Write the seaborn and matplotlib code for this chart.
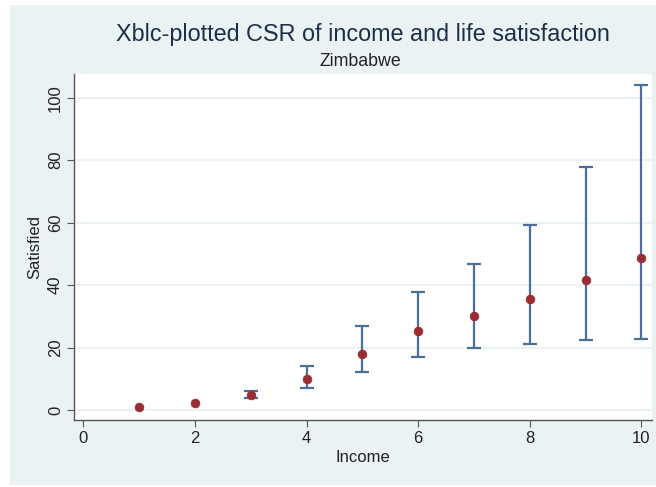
import matplotlib
matplotlib.use("Agg")
import matplotlib.pyplot as plt
import seaborn as sns
import pandas as pd
from matplotlib.patches import Rectangle

# Income category and estimated satisfaction with confidence bounds
income = [1, 2, 3, 4, 5, 6, 7, 8, 9, 10]
satisfied = [1.1, 2.3, 4.9, 10.0, 18.0, 25.3, 30.1, 35.5, 41.6, 48.7]
ci_lower = [1.1, 2.3, 3.7, 7.2, 12.1, 16.9, 19.9, 21.2, 22.3, 22.8]
ci_upper = [1.1, 2.3, 6.1, 14.1, 26.8, 37.8, 46.7, 59.1, 77.7, 104.1]

x_ticks = [0, 2, 4, 6, 8, 10]
y_ticks = [0, 20, 40, 60, 80, 100]

df = pd.DataFrame({"Income": income, "Satisfied": satisfied,
                   "lo": ci_lower, "hi": ci_upper})

sns.set_theme(style="white")
plt.rcParams["font.family"] = ["Liberation Sans", "DejaVu Sans"]

BG = "#EAF2F3"
NAVY = "#4A6F96"
CRAN = "#9A2C33"
TITLE = "#1C2D48"
TXT = "#222222"

fig = plt.figure(figsize=(6.56, 4.87), dpi=100, facecolor="white")
# light graph region behind the plot
fig.add_artist(Rectangle((10 / 656, 2 / 487), 646 / 656, 480 / 487,
                         transform=fig.transFigure, facecolor=BG,
                         edgecolor="none", zorder=-5))

ax = fig.add_axes([74 / 656, 67 / 487, 578 / 656, 346 / 487])
ax.set_facecolor("white")
ax.set_zorder(1)

for v in y_ticks:
    ax.axhline(v, color=BG, lw=1.5, zorder=0)

# intervals only where they have width
ci = df[df["hi"] > df["lo"]]
yerr = [ci["Satisfied"] - ci["lo"], ci["hi"] - ci["Satisfied"]]
ax.errorbar(ci["Income"], ci["Satisfied"], yerr=yerr, fmt="none",
            ecolor=NAVY, elinewidth=1.6, capsize=5, capthick=1.6, zorder=2)
sns.scatterplot(data=df, x="Income", y="Satisfied", color=CRAN, s=40,
                edgecolor=CRAN, linewidth=0.5, ax=ax, zorder=3)

ax.set_xlim(-0.167, 10.19)
ax.set_ylim(-3.2, 107.6)
ax.set_xticks(x_ticks)
ax.set_yticks(y_ticks)
ax.set_xticklabels([str(t) for t in x_ticks], fontsize=12, color=TXT)
ax.set_yticklabels([str(t) for t in y_ticks], fontsize=12, color=TXT,
                   rotation=90, va="center")
ax.tick_params(axis="both", direction="out", length=5, width=0.8,
               color="#555555", bottom=True, left=True, pad=3)

for side in ["top", "right"]:
    ax.spines[side].set_visible(False)
for side in ["left", "bottom"]:
    ax.spines[side].set_color("#555555")
    ax.spines[side].set_linewidth(1.0)

ax.set_xlabel("Income", fontsize=12, color=TXT, labelpad=3)
ax.set_ylabel("Satisfied", fontsize=12, color=TXT, labelpad=4)

fig.text(363 / 656, 1 - 34 / 487, "Xblc-plotted CSR of income and life satisfaction",
         ha="center", va="center", fontsize=16.8, color=TITLE)
fig.text(360 / 656, 1 - 61 / 487, "Zimbabwe", ha="center", va="center",
         fontsize=12.8, color=TXT)

fig.savefig("out.png", dpi=100, facecolor="white")
